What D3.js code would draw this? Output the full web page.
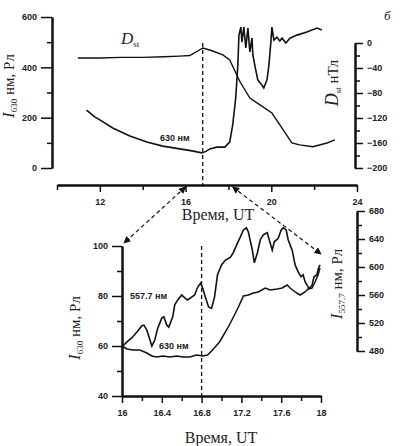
<!DOCTYPE html>
<html>
<head>
<meta charset="utf-8">
<script src="https://cdn.jsdelivr.net/npm/d3@7"></script>
<style>
  body { margin: 0; background: #fff; }
  .tick text { font-family: "Liberation Sans", Arial, sans-serif; font-size: 9px; font-weight: bold; fill: #222; }
  .axis path, .axis line { stroke: #111; }
  .axis path { stroke-width: 2; }
  .axis line { stroke-width: 1.5; }
  .lbl { font-family: "Liberation Serif", "Times New Roman", serif; font-size: 15px; fill: #222; }
  .note { font-family: "Liberation Sans", Arial, sans-serif; font-size: 9px; font-weight: bold; fill: #222; }
</style>
</head>
<body>
<div id="chart"></div>
<script>
// top panel: 630 nm intensity (left axis) and Dst (right axis) vs hour UT
const topHours630 = [11.38, 11.76, 12.0, 12.6, 13.4, 14.19, 14.94, 15.73, 16.3, 16.76, 16.95, 17.13, 17.46, 17.83, 18.06, 18.2, 18.34, 18.44, 18.49, 18.58, 18.63, 18.72, 18.81, 18.91, 19.0, 19.1, 19.14, 19.23, 19.37, 19.56, 19.65, 19.8, 19.89, 19.98, 20.03, 20.12, 20.26, 20.4, 20.5, 20.68, 20.87, 21.2, 21.66, 22.13, 22.36];
const top630 = [230, 203, 191, 159, 127, 103, 87, 76, 68, 60, 66, 76, 83, 83, 103, 171, 278, 409, 528, 560, 500, 560, 477, 556, 461, 516, 449, 409, 350, 330, 318, 350, 409, 500, 560, 508, 520, 505, 516, 497, 516, 528, 540, 556, 548];

const dstHours = [10.97, 12.0, 13.0, 14.0, 15.0, 15.73, 16.2, 16.5, 16.81, 17.2, 17.74, 18.06, 18.54, 19.0, 19.47, 20.03, 20.4, 20.96, 21.33, 21.94, 22.6, 22.97];
const dstValues = [-24, -24, -23, -23, -22, -21, -20, -14, -8, -12, -19, -27, -62, -88, -99, -112, -131, -160, -163, -166, -160, -155];

// bottom panel: zoom 16-18 UT
const botHours630 = [16.0, 16.05, 16.11, 16.18, 16.25, 16.3, 16.35, 16.41, 16.48, 16.55, 16.61, 16.68, 16.75, 16.81, 16.86, 16.91, 16.98, 17.06, 17.12, 17.17, 17.22, 17.27, 17.32, 17.37, 17.44, 17.49, 17.56, 17.61, 17.66, 17.69, 17.74, 17.79, 17.84, 17.87, 17.91, 17.94, 17.97, 17.99];
const bot630 = [60, 58.8, 58.4, 58.4, 57.2, 56, 55.6, 56, 55.6, 56, 55.6, 55.6, 56.4, 56, 56.4, 58.4, 61.6, 67, 71.6, 75.6, 80, 80.4, 81.2, 81.6, 83.2, 82.4, 82.8, 83.2, 84.4, 83.2, 81.6, 80.4, 81.6, 82.8, 83.2, 85.6, 88.4, 91.2];

const botHours557 = [16.0, 16.05, 16.1, 16.15, 16.2, 16.22, 16.25, 16.28, 16.3, 16.33, 16.36, 16.4, 16.42, 16.45, 16.47, 16.51, 16.53, 16.56, 16.6, 16.63, 16.66, 16.7, 16.73, 16.76, 16.79, 16.81, 16.84, 16.87, 16.9, 16.93, 16.96, 17.0, 17.04, 17.09, 17.12, 17.16, 17.19, 17.22, 17.25, 17.27, 17.31, 17.33, 17.36, 17.39, 17.42, 17.46, 17.48, 17.51, 17.53, 17.57, 17.6, 17.62, 17.65, 17.67, 17.71, 17.74, 17.77, 17.8, 17.82, 17.84, 17.86, 17.88, 17.91, 17.93, 17.96, 17.97, 17.99];
const bot557 = [486, 493, 499, 507, 516, 517, 510, 496, 487, 496, 513, 527, 529, 517, 514, 529, 546, 553, 560, 556, 553, 557, 560, 571, 577, 570, 556, 543, 541, 557, 589, 603, 610, 614, 621, 634, 643, 653, 656, 650, 624, 606, 620, 639, 646, 649, 639, 624, 636, 641, 653, 656, 653, 639, 624, 603, 593, 586, 589, 579, 574, 569, 574, 586, 589, 596, 603];

// tick labels
const topHourTicks = [12, 16, 20, 24];
const topLeftTicks = [0, 200, 400, 600];
const topRightTicks = [0, -40, -80, -120, -160, -200];
const botHourTicks = [16, 16.4, 16.8, 17.2, 17.6, 18];
const botLeftTicks = [40, 60, 80, 100];
const botRightTicks = [480, 520, 560, 600, 640, 680];

const svg = d3.select("#chart").append("svg")
    .attr("width", 402).attr("height", 446);

const defs = svg.append("defs");
defs.append("marker").attr("id", "arr")
    .attr("viewBox", "0 0 10 10").attr("refX", 9).attr("refY", 5)
    .attr("markerWidth", 6).attr("markerHeight", 6).attr("orient", "auto-start-reverse")
    .append("path").attr("d", "M0,0L10,5L0,10z").attr("fill", "#111");

function drawAxis(g, axis) {
  g.attr("class", "axis").call(axis);
}

// ---------- top panel ----------
const xTop = d3.scaleLinear().domain([10, 24]).range([57, 357]);
const yTopL = d3.scaleLinear().domain([0, 600]).range([168, 17]);
const yTopR = d3.scaleLinear().domain([-200, 0]).range([168, 43]);

// minor ticks first, then major
svg.append("g").attr("transform", "translate(0,185)")
    .call(g => drawAxis(g, d3.axisBottom(xTop).tickValues([10, 14, 18, 22]).tickSize(5).tickFormat("").tickSizeOuter(0)));
svg.append("g").attr("transform", "translate(0,185)")
    .call(g => drawAxis(g, d3.axisBottom(xTop).tickValues(topHourTicks).tickSize(7).tickPadding(7).tickSizeOuter(0)));

svg.append("g").attr("transform", "translate(52,0)")
    .call(g => drawAxis(g, d3.axisLeft(yTopL).tickValues([100, 300, 500]).tickSize(5).tickFormat("").tickSizeOuter(0)));
svg.append("g").attr("transform", "translate(52,0)")
    .call(g => drawAxis(g, d3.axisLeft(yTopL).tickValues(topLeftTicks).tickSize(11).tickPadding(4).tickSizeOuter(0)));

svg.append("g").attr("transform", "translate(355,0)")
    .call(g => drawAxis(g, d3.axisRight(yTopR).tickValues(d3.range(-180, 0, 40)).tickSize(5).tickFormat("").tickSizeOuter(0)));
svg.append("g").attr("transform", "translate(355,0)")
    .call(g => drawAxis(g, d3.axisRight(yTopR).tickValues(topRightTicks).tickSize(8).tickPadding(4).tickSizeOuter(0)));

const lineTop630 = d3.line().x((d, i) => xTop(topHours630[i])).y(d => yTopL(d));
svg.append("path").datum(top630).attr("d", lineTop630)
    .attr("fill", "none").attr("stroke", "#111").attr("stroke-width", 1.6);

const lineDst = d3.line().x((d, i) => xTop(dstHours[i])).y(d => yTopR(d));
svg.append("path").datum(dstValues).attr("d", lineDst)
    .attr("fill", "none").attr("stroke", "#111").attr("stroke-width", 1.4);

svg.append("line")
    .attr("x1", xTop(16.8)).attr("x2", xTop(16.8))
    .attr("y1", yTopR(0)).attr("y2", 185)
    .attr("stroke", "#111").attr("stroke-width", 1.3).attr("stroke-dasharray", "4,3");

svg.append("text").attr("class", "note").attr("x", 160).attr("y", 141).text("630 нм");

const dLbl = svg.append("text").attr("class", "lbl").attr("x", 121).attr("y", 44).style("font-size", "17px");
dLbl.append("tspan").style("font-style", "italic").text("D");
dLbl.append("tspan").attr("dy", 3).style("font-size", "9px").text("st");

svg.append("text").attr("class", "lbl").attr("x", 384).attr("y", 20)
    .style("font-style", "italic").style("font-size", "13px").text("б");

function yLabel(x, y, sub, unit) {
  const t = svg.append("text").attr("class", "lbl")
      .attr("transform", `translate(${x},${y}) rotate(-90)`)
      .attr("text-anchor", "middle");
  t.append("tspan").style("font-style", "italic").style("font-size", "17px").text("I");
  t.append("tspan").attr("dy", 3).style("font-size", "9px").text(sub);
  t.append("tspan").attr("dy", -3).text(unit);
}
yLabel(14, 86, "630", " нм, Рл");

const rLbl = svg.append("text").attr("class", "lbl")
    .attr("transform", "translate(338,83) rotate(-90)").attr("text-anchor", "middle");
rLbl.append("tspan").style("font-style", "italic").style("font-size", "18px").text("D");
rLbl.append("tspan").attr("dy", 3).style("font-size", "9px").text("st");
rLbl.append("tspan").attr("dy", -3).text("  нТл");

svg.append("text").attr("class", "lbl").attr("x", 218).attr("y", 220)
    .style("font-size", "16px").attr("text-anchor", "middle").text("Время, UT");

// ---------- bottom panel ----------
const xBot = d3.scaleLinear().domain([16, 18]).range([122, 321]);
const yBotL = d3.scaleLinear().domain([40, 100]).range([396, 246]);
const yBotR = d3.scaleLinear().domain([480, 680]).range([351, 211]);

svg.append("g").attr("transform", "translate(0,396)")
    .call(g => drawAxis(g, d3.axisBottom(xBot).tickValues(d3.range(16.2, 18, 0.4)).tickSize(5).tickFormat("").tickSizeOuter(0)));
svg.append("g").attr("transform", "translate(0,396)")
    .call(g => drawAxis(g, d3.axisBottom(xBot).tickValues(botHourTicks).tickSize(7).tickPadding(7).tickSizeOuter(0).tickFormat(d3.format("~g"))));

svg.append("g").attr("transform", "translate(122,0)")
    .call(g => drawAxis(g, d3.axisLeft(yBotL).tickValues([50, 70, 90]).tickSize(5).tickFormat("").tickSizeOuter(0)));
svg.append("g").attr("transform", "translate(122,0)")
    .call(g => drawAxis(g, d3.axisLeft(yBotL).tickValues(botLeftTicks).tickSize(10).tickPadding(4).tickSizeOuter(0)));

svg.append("g").attr("transform", "translate(357,0)")
    .call(g => drawAxis(g, d3.axisRight(yBotR).tickValues(d3.range(500, 680, 40)).tickSize(5).tickFormat("").tickSizeOuter(0)));
svg.append("g").attr("transform", "translate(357,0)")
    .call(g => drawAxis(g, d3.axisRight(yBotR).tickValues(botRightTicks).tickSize(8).tickPadding(4).tickSizeOuter(0)));

const lineBot630 = d3.line().x((d, i) => xBot(botHours630[i])).y(d => yBotL(d));
svg.append("path").datum(bot630).attr("d", lineBot630)
    .attr("fill", "none").attr("stroke", "#111").attr("stroke-width", 1.5);

const lineBot557 = d3.line().x((d, i) => xBot(botHours557[i])).y(d => yBotR(d));
svg.append("path").datum(bot557).attr("d", lineBot557)
    .attr("fill", "none").attr("stroke", "#111").attr("stroke-width", 1.6);

svg.append("line")
    .attr("x1", xBot(16.8)).attr("x2", xBot(16.8))
    .attr("y1", yBotL(100)).attr("y2", 396)
    .attr("stroke", "#111").attr("stroke-width", 1.3).attr("stroke-dasharray", "4,3");

svg.append("text").attr("class", "note").attr("x", 130).attr("y", 299).text("557.7 нм");
svg.append("text").attr("class", "note").attr("x", 159).attr("y", 349).text("630 нм");

yLabel(80, 328, "630", " нм, Рл");
yLabel(342, 284, "557.7", " нм, Рл");

svg.append("text").attr("class", "lbl").attr("x", 221).attr("y", 443)
    .style("font-size", "16px").attr("text-anchor", "middle").text("Время, UT");

// dashed zoom arrows from top time axis to bottom panel corners
svg.append("line")
    .attr("x1", xTop(16)).attr("y1", 187).attr("x2", xBot(16) + 2).attr("y2", yBotL(100) - 3)
    .attr("stroke", "#111").attr("stroke-width", 1.2).attr("stroke-dasharray", "4,3")
    .attr("marker-start", "url(#arr)").attr("marker-end", "url(#arr)");
svg.append("line")
    .attr("x1", xTop(18.2)).attr("y1", 187).attr("x2", xBot(18)).attr("y2", yBotR(620) + 1)
    .attr("stroke", "#111").attr("stroke-width", 1.2).attr("stroke-dasharray", "4,3")
    .attr("marker-start", "url(#arr)").attr("marker-end", "url(#arr)");
</script>
</body>
</html>
